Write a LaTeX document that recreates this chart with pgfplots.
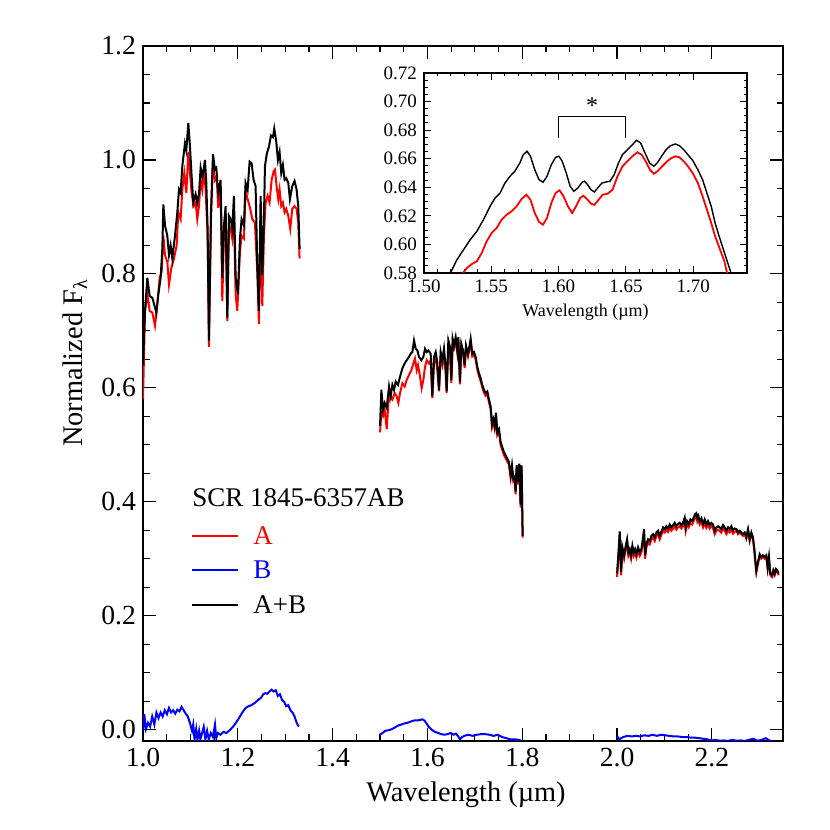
\documentclass[border=0pt]{standalone}
\usepackage{fontspec}
\setmainfont{Liberation Serif}
\usepackage{pgfplots}
\pgfplotsset{compat=1.18}
\begin{document}
\begin{tikzpicture}[x=1pt,y=1pt]
\useasboundingbox (0,0) rectangle (415,415);
\begin{axis}[
  at={(71.5pt,44.5pt)}, anchor=south west, scale only axis,
  width=320pt, height=347.5pt,
  xmin=1.0, xmax=2.35, ymin=-0.02, ymax=1.2,
  xtick={1.0,1.2,1.4,1.6,1.8,2.0,2.2}, ytick={0,0.2,0.4,0.6,0.8,1.0,1.2},
  minor x tick num=3, minor y tick num=3,
  tick align=inside, xtick pos=both, ytick pos=both,
  xticklabel pos=lower, yticklabel pos=left,
  major tick length=6.5pt, minor tick length=3.25pt,
  axis line style={line width=0.7pt},
  every tick/.style={black, line width=0.6pt},
  ticklabel style={font=\fontsize{13.8}{16}\selectfont},
  /pgf/number format/fixed, /pgf/number format/fixed zerofill,
  /pgf/number format/precision=1, /pgf/number format/assume math mode=true,
]
% ---- A (red) ----
\addplot[red, line width=1pt] table {
1.0000 0.580
1.0042 0.735
1.0091 0.764
1.0141 0.735
1.0197 0.732
1.0253 0.709
1.0302 0.746
1.0352 0.793
1.0394 0.804
1.0429 0.867
1.0464 0.833
1.0513 0.821
1.0548 0.781
1.0597 0.810
1.0654 0.827
1.0710 0.850
1.0745 0.908
1.0794 0.896
1.0829 0.948
1.0871 0.977
1.0914 0.942
1.0956 1.014
1.0991 0.977
1.1026 0.942
1.1068 0.919
1.1110 0.925
1.1145 0.896
1.1181 0.919
1.1216 0.965
1.1251 0.948
1.1286 0.983
1.1321 0.948
1.1363 0.867
1.1391 0.672
1.1434 0.896
1.1476 0.994
1.1518 0.965
1.1553 0.971
1.1588 0.916
1.1637 0.954
1.1673 0.752
1.1708 0.873
1.1743 0.902
1.1778 0.717
1.1813 0.885
1.1848 0.879
1.1883 0.862
1.1918 0.908
1.1954 0.764
1.1989 0.735
1.2045 0.839
1.2080 0.867
1.2129 0.862
1.2164 0.948
1.2207 0.931
1.2249 0.919
1.2305 0.896
1.2361 0.890
1.2410 0.804
1.2445 0.712
1.2481 0.902
1.2516 0.744
1.2551 0.867
1.2586 0.925
1.2628 0.937
1.2670 0.925
1.2713 0.965
1.2755 0.980
1.2783 0.983
1.2818 0.954
1.2853 0.931
1.2881 0.948
1.2916 0.919
1.2951 0.925
1.2987 0.908
1.3022 0.914
1.3064 0.902
1.3106 0.879
1.3148 0.914
1.3197 0.919
1.3240 0.914
1.3275 0.890
1.3303 0.827
};
\addplot[red, line width=1pt] table {
1.5000 0.5216
1.5028 0.5562
1.5063 0.5504
1.5098 0.5620
1.5141 0.5274
1.5176 0.5735
1.5211 0.5850
1.5260 0.5793
1.5309 0.5908
1.5351 0.5850
1.5386 0.5735
1.5422 0.5908
1.5471 0.6081
1.5520 0.6023
1.5562 0.6138
1.5611 0.6225
1.5661 0.6311
1.5703 0.6427
1.5738 0.6513
1.5773 0.6311
1.5801 0.6398
1.5843 0.6196
1.5878 0.5994
1.5914 0.6138
1.5949 0.6369
1.5984 0.6484
1.6033 0.6427
1.6068 0.6484
1.6103 0.5821
1.6138 0.6427
1.6174 0.6513
1.6209 0.6311
1.6244 0.5937
1.6279 0.6542
1.6314 0.6398
1.6349 0.6599
1.6384 0.6254
1.6405 0.5908
1.6441 0.6715
1.6476 0.6628
1.6504 0.6081
1.6532 0.6772
1.6560 0.6694
1.6595 0.6838
1.6630 0.6607
1.6651 0.6838
1.6686 0.6060
1.6715 0.6722
1.6750 0.6607
1.6785 0.6348
1.6813 0.6694
1.6855 0.6549
1.6890 0.6694
1.6911 0.6809
1.6946 0.6549
1.6982 0.6578
1.7017 0.6492
1.7052 0.6319
1.7087 0.6204
1.7122 0.6117
1.7157 0.6002
1.7192 0.5915
1.7228 0.5858
1.7263 0.5887
1.7298 0.5743
1.7333 0.5627
1.7361 0.5310
1.7389 0.5397
1.7417 0.5281
1.7445 0.5512
1.7474 0.5166
1.7509 0.5224
1.7544 0.4993
1.7579 0.4907
1.7614 0.4820
1.7649 0.4763
1.7684 0.4705
1.7719 0.4647
1.7755 0.4417
1.7783 0.4590
1.7811 0.4359
1.7839 0.4388
1.7860 0.4129
1.7881 0.4590
1.7909 0.4302
1.7937 0.4619
1.7965 0.3898
1.7986 0.4590
1.8008 0.3371
};
\addplot[red, line width=1pt] table {
2.0000 0.268
2.0028 0.302
2.0056 0.342
2.0084 0.271
2.0112 0.314
2.0148 0.300
2.0183 0.317
2.0211 0.328
2.0239 0.305
2.0267 0.311
2.0295 0.300
2.0323 0.317
2.0351 0.305
2.0379 0.311
2.0408 0.302
2.0443 0.314
2.0478 0.305
2.0513 0.311
2.0548 0.331
2.0569 0.346
2.0590 0.300
2.0618 0.320
2.0654 0.328
2.0689 0.325
2.0724 0.334
2.0759 0.337
2.0794 0.331
2.0829 0.340
2.0864 0.343
2.0899 0.334
2.0935 0.342
2.0970 0.349
2.1005 0.346
2.1040 0.351
2.1075 0.347
2.1110 0.354
2.1145 0.349
2.1181 0.353
2.1216 0.357
2.1251 0.351
2.1286 0.355
2.1321 0.357
2.1356 0.353
2.1391 0.357
2.1426 0.366
2.1448 0.349
2.1476 0.360
2.1511 0.355
2.1546 0.363
2.1581 0.360
2.1616 0.366
2.1644 0.372
2.1672 0.374
2.1694 0.365
2.1715 0.369
2.1743 0.360
2.1778 0.365
2.1813 0.355
2.1848 0.363
2.1883 0.354
2.1918 0.360
2.1954 0.353
2.1989 0.357
2.2024 0.354
2.2059 0.343
2.2094 0.349
2.2129 0.351
2.2164 0.349
2.2199 0.346
2.2235 0.353
2.2270 0.349
2.2305 0.343
2.2340 0.349
2.2375 0.346
2.2410 0.351
2.2445 0.344
2.2481 0.347
2.2516 0.349
2.2551 0.343
2.2586 0.346
2.2621 0.343
2.2656 0.340
2.2691 0.343
2.2726 0.335
2.2762 0.349
2.2797 0.331
2.2832 0.343
2.2867 0.334
2.2895 0.314
2.2916 0.294
2.2937 0.276
2.2972 0.291
2.3008 0.305
2.3043 0.300
2.3078 0.303
2.3113 0.300
2.3148 0.303
2.3176 0.282
2.3204 0.300
2.3232 0.271
2.3268 0.268
2.3296 0.277
2.3324 0.271
2.3352 0.279
2.3380 0.277
2.3408 0.271
};
% ---- B (blue) ----
\addplot[blue, line width=1pt] table {
1.0000 -0.002
1.0027 0.027
1.0062 0.001
1.0106 0.012
1.0150 0.005
1.0194 0.023
1.0239 0.009
1.0283 0.030
1.0327 0.020
1.0371 0.030
1.0415 0.023
1.0459 0.034
1.0504 0.027
1.0548 0.038
1.0592 0.030
1.0636 0.034
1.0680 0.028
1.0724 0.035
1.0769 0.032
1.0813 0.040
1.0857 0.034
1.0901 0.028
1.0945 0.023
1.0989 0.012
1.1034 -0.002
1.1060 0.009
1.1087 -0.017
1.1122 0.001
1.1148 -0.018
1.1184 -0.002
1.1210 -0.017
1.1246 -0.006
1.1281 0.005
1.1316 -0.017
1.1352 -0.002
1.1387 -0.017
1.1431 -0.006
1.1475 -0.013
1.1519 0.009
1.1546 -0.015
1.1581 -0.006
1.1634 -0.009
1.1696 -0.004
1.1758 -0.006
1.1829 -0.001
1.1899 0.005
1.1961 0.012
1.2023 0.020
1.2094 0.030
1.2164 0.038
1.2226 0.041
1.2288 0.043
1.2359 0.047
1.2429 0.052
1.2491 0.056
1.2535 0.062
1.2580 0.064
1.2624 0.063
1.2668 0.067
1.2712 0.070
1.2756 0.067
1.2800 0.069
1.2845 0.059
1.2889 0.062
1.2933 0.052
1.2977 0.049
1.3021 0.041
1.3065 0.043
1.3110 0.034
1.3154 0.030
1.3198 0.023
1.3242 0.012
1.3286 0.005
};
\addplot[blue, line width=1pt] table {
1.4991 -0.009
1.5053 -0.006
1.5115 -0.002
1.5186 -0.001
1.5256 0.001
1.5318 0.004
1.5380 0.007
1.5451 0.009
1.5521 0.011
1.5583 0.012
1.5645 0.014
1.5716 0.016
1.5786 0.016
1.5848 0.017
1.5892 0.018
1.5936 0.016
1.5980 0.011
1.6025 0.005
1.6087 0.000
1.6157 -0.004
1.6228 -0.006
1.6290 -0.008
1.6352 -0.009
1.6422 -0.008
1.6493 -0.006
1.6555 -0.009
1.6599 -0.007
1.6643 -0.011
1.6687 -0.017
1.6731 -0.013
1.6776 -0.011
1.6864 -0.009
1.6952 -0.011
1.7041 -0.009
1.7129 -0.008
1.7217 -0.008
1.7306 -0.009
1.7394 -0.011
1.7482 -0.009
1.7571 -0.013
1.7659 -0.015
1.7747 -0.017
1.7836 -0.017
1.7924 -0.018
1.7968 -0.019
};
\addplot[blue, line width=1pt] table {
2.0000 -0.011
2.0044 -0.017
2.0133 -0.013
2.0221 -0.011
2.0309 -0.012
2.0398 -0.011
2.0486 -0.012
2.0574 -0.010
2.0663 -0.011
2.0751 -0.009
2.0839 -0.011
2.0928 -0.009
2.1016 -0.010
2.1104 -0.011
2.1193 -0.012
2.1281 -0.012
2.1369 -0.013
2.1458 -0.013
2.1546 -0.014
2.1634 -0.014
2.1723 -0.015
2.1811 -0.016
2.1899 -0.017
2.1988 -0.019
2.2076 -0.018
2.2164 -0.0196
2.2253 -0.019
2.2341 -0.0199
2.2429 -0.018
2.2518 -0.0196
2.2606 -0.019
2.2694 -0.0199
2.2783 -0.018
2.2871 -0.016
2.2959 -0.0196
2.3048 -0.018
2.3136 -0.015
2.3224 -0.0196
2.3295 -0.0199
};
% ---- A+B (black) ----
\addplot[black, line width=1pt] table {
1.0000 0.640
1.0042 0.735
1.0091 0.793
1.0141 0.761
1.0197 0.758
1.0253 0.741
1.0281 0.732
1.0323 0.764
1.0372 0.793
1.0408 0.844
1.0429 0.922
1.0464 0.885
1.0513 0.867
1.0548 0.833
1.0583 0.850
1.0618 0.827
1.0675 0.867
1.0724 0.908
1.0759 0.948
1.0794 0.942
1.0829 0.989
1.0885 1.029
1.0914 1.017
1.0956 1.065
1.0991 1.023
1.1026 0.971
1.1061 0.925
1.1110 0.940
1.1145 0.925
1.1181 0.940
1.1216 0.986
1.1251 0.971
1.1279 0.983
1.1307 1.000
1.1335 0.960
1.1363 0.879
1.1391 0.683
1.1434 0.908
1.1476 1.010
1.1518 0.983
1.1546 0.986
1.1588 0.942
1.1637 0.965
1.1673 0.793
1.1708 0.885
1.1743 0.919
1.1778 0.723
1.1813 0.902
1.1848 0.896
1.1883 0.879
1.1918 0.937
1.1954 0.793
1.2003 0.764
1.2045 0.862
1.2080 0.896
1.2129 0.885
1.2164 0.960
1.2207 0.948
1.2249 0.997
1.2291 0.994
1.2333 0.965
1.2375 0.954
1.2410 0.816
1.2445 0.735
1.2481 0.937
1.2516 0.798
1.2551 0.896
1.2572 0.989
1.2614 1.012
1.2656 1.023
1.2699 1.043
1.2741 1.040
1.2769 1.055
1.2811 1.032
1.2846 1.000
1.2881 1.014
1.2916 0.977
1.2951 0.991
1.2987 0.965
1.3022 0.968
1.3064 0.960
1.3099 0.931
1.3148 0.954
1.3197 0.963
1.3240 0.948
1.3275 0.919
1.3303 0.844
};
\addplot[black, line width=1pt] table {
1.5000 0.5331
1.5028 0.5965
1.5063 0.5620
1.5098 0.5735
1.5141 0.5648
1.5190 0.6023
1.5225 0.5850
1.5260 0.6052
1.5295 0.5965
1.5330 0.6110
1.5379 0.6052
1.5422 0.6196
1.5471 0.6340
1.5520 0.6427
1.5562 0.6484
1.5611 0.6542
1.5646 0.6599
1.5682 0.6628
1.5717 0.6830
1.5752 0.6686
1.5787 0.6657
1.5822 0.6542
1.5871 0.6484
1.5914 0.6542
1.5949 0.6686
1.5984 0.6628
1.6019 0.6657
1.6068 0.6599
1.6103 0.5850
1.6138 0.6542
1.6174 0.6628
1.6209 0.6427
1.6244 0.5965
1.6279 0.6628
1.6314 0.6484
1.6349 0.6686
1.6384 0.6369
1.6405 0.5937
1.6441 0.6830
1.6476 0.6715
1.6504 0.6138
1.6532 0.6859
1.6560 0.6744
1.6595 0.6888
1.6630 0.6657
1.6651 0.6888
1.6686 0.6110
1.6715 0.6772
1.6750 0.6657
1.6785 0.6398
1.6813 0.6744
1.6855 0.6599
1.6890 0.6744
1.6911 0.6859
1.6946 0.6599
1.6982 0.6628
1.7017 0.6542
1.7052 0.6369
1.7087 0.6254
1.7122 0.6167
1.7157 0.6052
1.7192 0.5965
1.7228 0.5908
1.7263 0.5937
1.7298 0.5793
1.7333 0.5677
1.7361 0.5360
1.7389 0.5447
1.7417 0.5331
1.7445 0.5562
1.7474 0.5216
1.7509 0.5274
1.7544 0.5043
1.7579 0.4957
1.7614 0.4870
1.7649 0.4813
1.7684 0.4755
1.7719 0.4697
1.7755 0.4467
1.7783 0.4640
1.7811 0.4409
1.7839 0.4438
1.7860 0.4179
1.7881 0.4640
1.7909 0.4352
1.7937 0.4669
1.7965 0.3948
1.7986 0.4640
1.8008 0.3401
};
\addplot[black, line width=1pt] table {
2.0000 0.274
2.0028 0.308
2.0056 0.348
2.0084 0.277
2.0112 0.320
2.0148 0.306
2.0183 0.323
2.0211 0.334
2.0239 0.311
2.0267 0.317
2.0295 0.306
2.0323 0.323
2.0351 0.311
2.0379 0.317
2.0408 0.308
2.0443 0.320
2.0478 0.311
2.0513 0.317
2.0548 0.337
2.0569 0.352
2.0590 0.306
2.0618 0.326
2.0654 0.334
2.0689 0.331
2.0724 0.340
2.0759 0.343
2.0794 0.337
2.0829 0.346
2.0864 0.349
2.0899 0.340
2.0935 0.348
2.0970 0.355
2.1005 0.352
2.1040 0.357
2.1075 0.353
2.1110 0.360
2.1145 0.355
2.1181 0.359
2.1216 0.363
2.1251 0.357
2.1286 0.361
2.1321 0.363
2.1356 0.359
2.1391 0.363
2.1426 0.372
2.1448 0.355
2.1476 0.366
2.1511 0.361
2.1546 0.369
2.1581 0.366
2.1616 0.372
2.1644 0.378
2.1672 0.380
2.1694 0.371
2.1715 0.375
2.1743 0.366
2.1778 0.371
2.1813 0.361
2.1848 0.369
2.1883 0.360
2.1918 0.366
2.1954 0.359
2.1989 0.363
2.2024 0.360
2.2059 0.349
2.2094 0.355
2.2129 0.357
2.2164 0.355
2.2199 0.352
2.2235 0.359
2.2270 0.355
2.2305 0.349
2.2340 0.355
2.2375 0.352
2.2410 0.357
2.2445 0.350
2.2481 0.353
2.2516 0.352
2.2551 0.346
2.2586 0.349
2.2621 0.346
2.2656 0.343
2.2691 0.346
2.2726 0.338
2.2762 0.352
2.2797 0.334
2.2832 0.346
2.2867 0.337
2.2895 0.317
2.2916 0.297
2.2937 0.279
2.2972 0.294
2.3008 0.308
2.3043 0.303
2.3078 0.306
2.3113 0.303
2.3148 0.306
2.3176 0.285
2.3204 0.303
2.3232 0.274
2.3268 0.271
2.3296 0.280
2.3324 0.274
2.3352 0.282
2.3380 0.280
2.3408 0.274
};
\end{axis}
% ---- inset ----
\begin{axis}[
  at={(212pt,278.5pt)}, anchor=south west, scale only axis,
  width=161.5pt, height=100pt,
  xmin=1.5, xmax=1.74, ymin=0.58, ymax=0.72,
  xtick={1.50,1.55,1.60,1.65,1.70},
  ytick={0.58,0.60,0.62,0.64,0.66,0.68,0.70,0.72},
  minor x tick num=4, minor y tick num=3,
  tick align=inside, xtick pos=both, ytick pos=both,
  xticklabel pos=lower, yticklabel pos=left,
  major tick length=3.5pt, minor tick length=1.75pt,
  axis line style={line width=0.6pt},
  every tick/.style={black, line width=0.5pt},
  ticklabel style={font=\fontsize{9.5}{11}\selectfont},
  /pgf/number format/fixed, /pgf/number format/fixed zerofill,
  /pgf/number format/precision=2, /pgf/number format/assume math mode=true,
]
\addplot[black, line width=0.7pt] table {
1.5196 0.5800
1.5245 0.5893
1.5294 0.5963
1.5343 0.6033
1.5393 0.6092
1.5442 0.6173
1.5491 0.6267
1.5528 0.6325
1.5565 0.6360
1.5602 0.6430
1.5639 0.6477
1.5675 0.6512
1.5712 0.6570
1.5737 0.6628
1.5766 0.6652
1.5791 0.6617
1.5823 0.6523
1.5855 0.6453
1.5884 0.6435
1.5914 0.6477
1.5946 0.6558
1.5978 0.6610
1.6002 0.6617
1.6027 0.6582
1.6057 0.6500
1.6086 0.6407
1.6113 0.6372
1.6143 0.6395
1.6175 0.6435
1.6192 0.6442
1.6216 0.6418
1.6241 0.6383
1.6266 0.6367
1.6290 0.6395
1.6322 0.6430
1.6352 0.6437
1.6381 0.6442
1.6413 0.6488
1.6445 0.6570
1.6475 0.6628
1.6511 0.6663
1.6548 0.6698
1.6580 0.6729
1.6610 0.6710
1.6642 0.6640
1.6676 0.6570
1.6708 0.6547
1.6733 0.6570
1.6765 0.6617
1.6799 0.6663
1.6831 0.6691
1.6868 0.6703
1.6898 0.6691
1.6930 0.6663
1.6961 0.6628
1.6996 0.6589
1.7035 0.6523
1.7070 0.6453
1.7102 0.6360
1.7134 0.6267
1.7163 0.6150
1.7193 0.6057
1.7225 0.5963
1.7257 0.5870
1.7281 0.5800
};
\addplot[red, line width=0.9pt] table {
1.5289 0.5800
1.5319 0.5835
1.5356 0.5863
1.5393 0.5882
1.5429 0.5940
1.5466 0.6022
1.5503 0.6080
1.5540 0.6115
1.5577 0.6173
1.5614 0.6208
1.5651 0.6232
1.5688 0.6267
1.5725 0.6318
1.5761 0.6348
1.5791 0.6313
1.5823 0.6220
1.5855 0.6157
1.5884 0.6138
1.5914 0.6185
1.5946 0.6290
1.5978 0.6360
1.6007 0.6379
1.6037 0.6337
1.6069 0.6267
1.6101 0.6220
1.6130 0.6267
1.6160 0.6325
1.6184 0.6341
1.6216 0.6313
1.6241 0.6285
1.6266 0.6276
1.6298 0.6313
1.6327 0.6348
1.6364 0.6355
1.6401 0.6383
1.6438 0.6477
1.6475 0.6547
1.6511 0.6582
1.6548 0.6617
1.6585 0.6645
1.6617 0.6628
1.6647 0.6582
1.6679 0.6523
1.6708 0.6495
1.6735 0.6512
1.6770 0.6547
1.6807 0.6582
1.6839 0.6605
1.6868 0.6617
1.6898 0.6610
1.6930 0.6582
1.6961 0.6547
1.6996 0.6500
1.7035 0.6430
1.7070 0.6337
1.7102 0.6243
1.7134 0.6150
1.7163 0.6057
1.7200 0.5963
1.7232 0.5882
1.7252 0.5800
};
\draw[line width=0.5pt] (axis cs:1.60,0.6745) -- (axis cs:1.60,0.6897) -- (axis cs:1.65,0.6897) -- (axis cs:1.65,0.6745);
\node[anchor=base, font=\fontsize{12}{14}\selectfont, inner sep=0pt] at (axis cs:1.625,0.6915) {*};
\end{axis}
% ---- labels ----
\node[font=\fontsize{9}{11}\selectfont] at (292.75,259) {Wavelength (µm)};
\node[font=\fontsize{14.2}{17}\selectfont] at (233,17.5) {Wavelength (µm)};
\node[rotate=90, font=\fontsize{14.2}{17}\selectfont] at (37.5,233.5) {Normalized F\textsubscript{λ}};
% ---- legend ----
\node[anchor=west, inner sep=0pt, font=\fontsize{13.5}{16}\selectfont] at (96,166) {SCR 1845-6357AB};
\draw[red, line width=1pt] (96,147) -- (119,147);
\node[anchor=west, inner sep=0pt, text=red, font=\fontsize{13.5}{16}\selectfont] at (126.5,147) {A};
\draw[blue, line width=1pt] (96,130) -- (119,130);
\node[anchor=west, inner sep=0pt, text=blue, font=\fontsize{13.5}{16}\selectfont] at (126.5,130) {B};
\draw[black, line width=1pt] (96,112.5) -- (119,112.5);
\node[anchor=west, inner sep=0pt, font=\fontsize{13.5}{16}\selectfont] at (126.5,112.5) {A+B};
\end{tikzpicture}
\end{document}
